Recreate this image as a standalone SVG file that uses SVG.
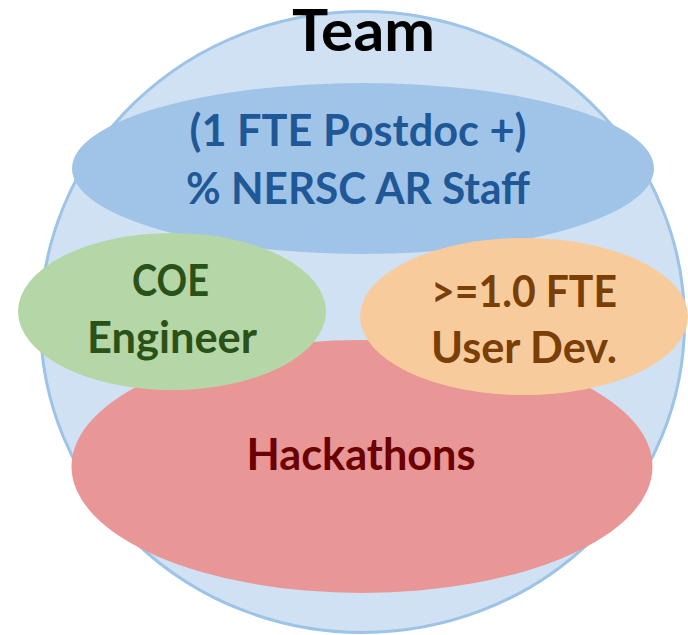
<svg xmlns="http://www.w3.org/2000/svg" width="688" height="635" viewBox="0 0 688 635">
  <style>
    .lbl { font-family: Lato, "Open Sans", "Liberation Sans", sans-serif; font-weight: bold; text-anchor: middle; }
    .big { font-size: 43px; }
  </style>
  <rect width="688" height="635" fill="#ffffff"/>

  <!-- outer team circle -->
  <g id="team">
    <ellipse cx="362.5" cy="322" rx="322" ry="310.5" fill="#CFE1F2" stroke="#9DC3E6" stroke-width="3"/>
  </g>

  <!-- postdoc + staff -->
  <g id="staff">
    <ellipse cx="363" cy="168.5" rx="291" ry="85.5" fill="#9FC4E7"/>
    <text class="lbl big" x="358" y="146" fill="#1F5797" textLength="337" lengthAdjust="spacingAndGlyphs">(1 FTE Postdoc +)</text>
    <text class="lbl big" x="358" y="204" fill="#1F5797" textLength="344" lengthAdjust="spacingAndGlyphs">% NERSC AR Staff</text>
  </g>

  <!-- hackathons -->
  <g id="hackathons">
    <ellipse cx="362" cy="466.5" rx="290.5" ry="126.5" fill="#E99696"/>
    <text class="lbl big" x="361" y="470" fill="#6B0000" textLength="229" lengthAdjust="spacingAndGlyphs">Hackathons</text>
  </g>

  <!-- COE engineer -->
  <g id="coe">
    <ellipse cx="172" cy="311.5" rx="154" ry="78.5" fill="#B5D7A8"/>
    <text class="lbl big" x="170.5" y="296" fill="#2A5218" textLength="77" lengthAdjust="spacingAndGlyphs">COE</text>
    <text class="lbl big" x="172" y="353" fill="#2A5218" textLength="170" lengthAdjust="spacingAndGlyphs">Engineer</text>
  </g>

  <!-- user developer -->
  <g id="userdev">
    <ellipse cx="524" cy="316.5" rx="164" ry="78.5" fill="#F8CB9D"/>
    <text class="lbl big" x="524" y="307" fill="#7A3F06" textLength="186" lengthAdjust="spacingAndGlyphs">&gt;=1.0 FTE</text>
    <text class="lbl big" x="524" y="363" fill="#7A3F06" textLength="186" lengthAdjust="spacingAndGlyphs">User Dev.</text>
  </g>

  <!-- title -->
  <g id="title">
    <text class="lbl" x="363.5" y="51" font-size="58" fill="#000000" textLength="143" lengthAdjust="spacingAndGlyphs">Team</text>
  </g>

  <g id="connectors"/>
</svg>
